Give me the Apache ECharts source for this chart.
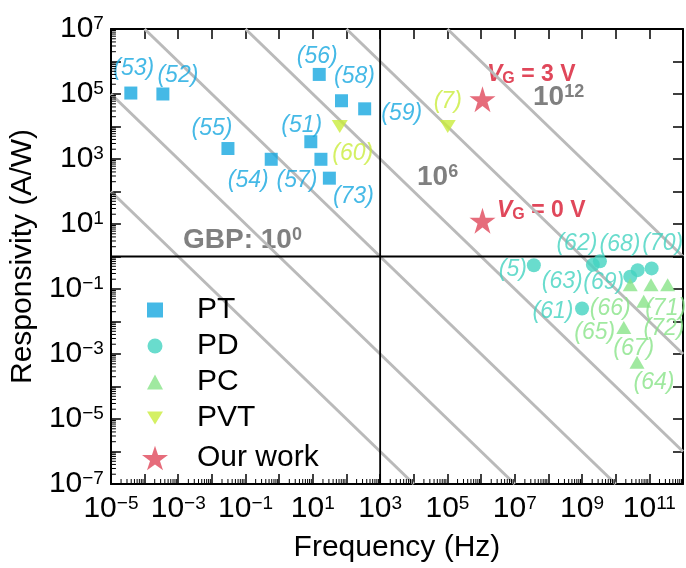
<!DOCTYPE html>
<html>
<head>
<meta charset="utf-8">
<script src="https://cdn.jsdelivr.net/npm/echarts@6/dist/echarts.min.js"></script>
<style>
html, body { margin: 0; padding: 0; background: #fff; }
#chart { width: 686px; height: 568px; }
</style>
</head>
<body>
<div id="chart"></div>
<script>
// values
var ptNames = ['(53)', '(52)', '(55)', '(54)', '(51)', '(57)', '(73)', '(56)', '(58)', '(59)'];
var ptFreq = [3.9e-5, 3.5e-4, 3.0e-2, 0.58, 8.7, 17.4, 31, 15.5, 71, 347];
var ptResp = [1.07e5, 1.0e5, 2.1e3, 980, 3.4e3, 980, 257, 4.0e5, 6.2e4, 3.5e4];

var pdNames = ['(5)', '(62)', '(68)', '(63)', '(69)', '(70)', '(61)'];
var pdFreq = [3.7e7, 2.1e9, 3.4e9, 2.7e10, 4.5e10, 1.17e11, 1.0e9];
var pdResp = [0.54, 0.56, 0.71, 0.24, 0.38, 0.43, 0.025];

var pcNames = ['(66)', '(72)', '(71)', '(67)', '(65)', '(64)'];
var pcFreq = [2.7e10, 1.12e11, 3.5e11, 6.8e10, 1.74e10, 4.3e10];
var pcResp = [0.135, 0.135, 0.135, 0.042, 6.5e-3, 5.6e-4];

var pvtNames = ['(60)', '(7)'];
var pvtFreq = [63, 1.02e5];
var pvtResp = [1.0e4, 1.0e4];

var oursNames = ['VG = 3 V', 'VG = 0 V'];
var oursFreq = [1.1e6, 1.1e6];
var oursResp = [6.9e4, 12.6];

var gbpExp = [-3, 0, 3, 6, 9, 12];   // GBP = R * f lines, 10^n

// where each ref label sits relative to its marker (px)
var labelOffset = {
    '(53)': [3, -24], '(52)': [15, -18], '(55)': [-16, -20], '(54)': [-23, 21], '(51)': [-9, -16],
    '(57)': [-24, 21], '(73)': [24, 18], '(56)': [-2, -18], '(58)': [13, -24], '(59)': [37, 5],
    '(60)': [13, 27], '(7)': [0, -25],
    '(5)': [-21, 4], '(62)': [-16, -21], '(68)': [20, -17], '(63)': [-68, 5], '(69)': [-34, 12],
    '(70)': [11, -25], '(61)': [-29, 3],
    '(66)': [-20, 24], '(71)': [-2, 24], '(72)': [13, 44], '(67)': [-10, 47], '(65)': [-29, 5], '(64)': [17, 20]
};

var FONT = '"Liberation Sans", Arial, sans-serif';
var cBlue = '#17a8e0', cTeal = '#43d3c1', cGreen = '#88e388', cLime = '#c9ec3c', cRed = '#e0475a', cGray = '#808080';
var starPath = 'path://M50,2 L61.2,36.5 L97.6,36.5 L68.2,57.9 L79.4,92.4 L50,71 L20.6,92.4 L31.8,57.9 L2.4,36.5 L38.8,36.5 Z';
var downTri = 'path://M0,0 L16,0 L8,13 Z';

function pts(f, r, names) {
    return f.map(function (v, i) {
        var d = { name: names[i], value: [v, r[i]] };
        if (labelOffset[names[i]]) d.label = { offset: labelOffset[names[i]] };
        return d;
    });
}

function refLabel(color) {
    return {
        show: true, position: 'inside', formatter: '{b}', color: color,
        fontStyle: 'italic', fontSize: 23, fontFamily: FONT
    };
}

function expLabel(v) {
    var e = Math.round(Math.log10(v));
    if (e % 2 === 0) return '';
    return '{b|10}{s|' + (e < 0 ? '\u2212' + (-e) : e) + '}';
}
var tickRich = {
    b: { fontSize: 30, fontFamily: FONT, color: '#000' },
    s: { fontSize: 19, fontFamily: FONT, color: '#000', verticalAlign: 'top' }
};

function logAxis(pos, main, min, max) {
    return {
        type: 'log', logBase: 10, min: min, max: max, position: pos,
        interval: 1, splitNumber: 20,
        axisLine: { show: true, onZero: false, lineStyle: { color: '#000', width: 2 } },
        axisTick: { show: true, inside: true, length: 10, lineStyle: { color: '#000', width: 1.5 } },
        minorTick: { show: false },
        splitLine: { show: false },
        axisLabel: { show: main, formatter: expLabel, rich: tickRich, margin: 10 }
    };
}

// minor ticks at 2..9 x 10^n, placed through the axis scale
function minorVals(lo, hi) {
    var out = [];
    for (var n = lo; n < hi; n++) {
        for (var k = 2; k <= 9; k++) out.push(k * Math.pow(10, n));
    }
    return out;
}

var mychart = echarts.init(document.getElementById('chart'));

var gbpSeries = gbpExp.map(function (c) {
    var x0 = Math.max(-5, c - 7), x1 = Math.min(12, c + 7);
    return {
        type: 'line', silent: true, symbol: 'none', z: 1,
        lineStyle: { color: '#bababa', width: 3 },
        data: [[Math.pow(10, x0), Math.pow(10, c - x0)], [Math.pow(10, x1), Math.pow(10, c - x1)]]
    };
});

var minorX = {
    type: 'custom', silent: true, clip: false, z: 10,
    data: minorVals(-5, 12).map(function (v) { return [v, 1e-7]; }),
    renderItem: function (params, api) {
        var p = api.coord([api.value(0), api.value(1)]);
        return { type: 'line', shape: { x1: p[0], y1: p[1], x2: p[0], y2: p[1] - 5 }, style: { stroke: '#000', lineWidth: 1 } };
    }
};
var minorY = {
    type: 'custom', silent: true, clip: false, z: 10,
    data: minorVals(-7, 7).map(function (v) { return [1e-5, v]; }),
    renderItem: function (params, api) {
        var p = api.coord([api.value(0), api.value(1)]);
        return { type: 'line', shape: { x1: p[0], y1: p[1], x2: p[0] + 5, y2: p[1] }, style: { stroke: '#000', lineWidth: 1 } };
    }
};

var xAxisMain = logAxis('bottom', true, 1e-5, 1e12);
xAxisMain.name = 'Frequency (Hz)';
xAxisMain.nameLocation = 'middle';
xAxisMain.nameGap = 49;
xAxisMain.nameTextStyle = { fontSize: 30, fontFamily: FONT, color: '#000' };

var yAxisMain = logAxis('left', true, 1e-7, 1e7);
yAxisMain.name = 'Responsivity (A/W)';
yAxisMain.nameLocation = 'middle';
yAxisMain.nameGap = 68;
yAxisMain.nameTextStyle = { fontSize: 30, fontFamily: FONT, color: '#000' };
yAxisMain.axisLabel.margin = 7;

function legendFmt(name) { return '{t|' + name + '}'; }

var option = {
    animation: false,
    grid: { left: 110, right: 1, top: 29, bottom: 78 },
    xAxis: [xAxisMain, logAxis('top', false, 1e-5, 1e12)],
    yAxis: [yAxisMain, logAxis('right', false, 1e-7, 1e7)],
    legend: [{
        data: ['PT', 'PD', 'PC', { name: 'PVT', icon: downTri }], orient: 'vertical', left: 142, top: 290,
        itemWidth: 16, itemHeight: 15, itemGap: 6, formatter: legendFmt,
        textStyle: { rich: { t: { fontSize: 30, fontFamily: FONT, color: '#000', padding: [0, 0, 0, 29] } } }
    }, {
        data: ['Our work'], orient: 'vertical', left: 137, top: 438,
        itemWidth: 26, itemHeight: 25, formatter: legendFmt,
        textStyle: { rich: { t: { fontSize: 30, fontFamily: FONT, color: '#000', padding: [0, 0, 0, 24] } } }
    }],
    graphic: [
        { type: 'text', left: 183, top: 226, style: { text: '{a|GBP: 10}{s|0}', rich: {
            a: { fontSize: 28, fontWeight: 'bold', fontFamily: FONT, fill: cGray },
            s: { fontSize: 18, fontWeight: 'bold', fontFamily: FONT, fill: cGray, verticalAlign: 'top' } } } },
        { type: 'text', left: 417, top: 163, style: { text: '{a|10}{s|6}', rich: {
            a: { fontSize: 28, fontWeight: 'bold', fontFamily: FONT, fill: cGray },
            s: { fontSize: 18, fontWeight: 'bold', fontFamily: FONT, fill: cGray, verticalAlign: 'top' } } } },
        { type: 'text', left: 533, top: 83, style: { text: '{a|10}{s|12}', rich: {
            a: { fontSize: 28, fontWeight: 'bold', fontFamily: FONT, fill: cGray },
            s: { fontSize: 18, fontWeight: 'bold', fontFamily: FONT, fill: cGray, verticalAlign: 'top' } } } },
        { type: 'text', left: 487, top: 57, style: { text: '{v|V}{g|G}{t| = 3 V}', rich: {
            v: { fontSize: 23, fontWeight: 'bold', fontStyle: 'italic', fontFamily: FONT, fill: cRed, lineHeight: 24, verticalAlign: 'top' },
            g: { fontSize: 16, fontWeight: 'bold', fontFamily: FONT, fill: cRed, lineHeight: 16, padding: [14, 0, 0, 0], verticalAlign: 'bottom' },
            t: { fontSize: 23, fontWeight: 'bold', fontFamily: FONT, fill: cRed, lineHeight: 24, verticalAlign: 'top' } } } },
        { type: 'text', left: 497, top: 193, style: { text: '{v|V}{g|G}{t| = 0 V}', rich: {
            v: { fontSize: 23, fontWeight: 'bold', fontStyle: 'italic', fontFamily: FONT, fill: cRed, lineHeight: 24, verticalAlign: 'top' },
            g: { fontSize: 16, fontWeight: 'bold', fontFamily: FONT, fill: cRed, lineHeight: 16, padding: [14, 0, 0, 0], verticalAlign: 'bottom' },
            t: { fontSize: 23, fontWeight: 'bold', fontFamily: FONT, fill: cRed, lineHeight: 24, verticalAlign: 'top' } } } }
    ],
    series: gbpSeries.concat([
        minorX, minorY,
        {
            type: 'line', silent: true, symbol: 'none', z: 2,
            lineStyle: { color: '#000', width: 1.8 },
            data: [[1e-5, 1], [1e12, 1]]
        },
        {
            type: 'line', silent: true, symbol: 'none', z: 2,
            lineStyle: { color: '#000', width: 1.8 },
            data: [[1e3, 1e-7], [1e3, 1e7]]
        },
        {
            name: 'PT', type: 'scatter', symbol: 'rect', symbolSize: 13, z: 5,
            itemStyle: { color: cBlue }, label: refLabel(cBlue),
            data: pts(ptFreq, ptResp, ptNames)
        },
        {
            name: 'PD', type: 'scatter', symbol: 'circle', symbolSize: 14, z: 5,
            itemStyle: { color: cTeal }, label: refLabel(cTeal),
            data: pts(pdFreq, pdResp, pdNames)
        },
        {
            name: 'PC', type: 'scatter', symbol: 'triangle', symbolSize: [15, 13], z: 5,
            itemStyle: { color: cGreen }, label: refLabel(cGreen),
            data: pts(pcFreq, pcResp, pcNames)
        },
        {
            name: 'PVT', type: 'scatter', symbol: downTri, symbolSize: [16, 13], z: 5,
            itemStyle: { color: cLime }, label: refLabel(cLime),
            data: pts(pvtFreq, pvtResp, pvtNames)
        },
        {
            name: 'Our work', type: 'scatter', symbol: starPath, symbolSize: 26, z: 6,
            itemStyle: { color: cRed },
            data: pts(oursFreq, oursResp, oursNames)
        }
    ])
};
mychart.setOption(option);
</script>
</body>
</html>
